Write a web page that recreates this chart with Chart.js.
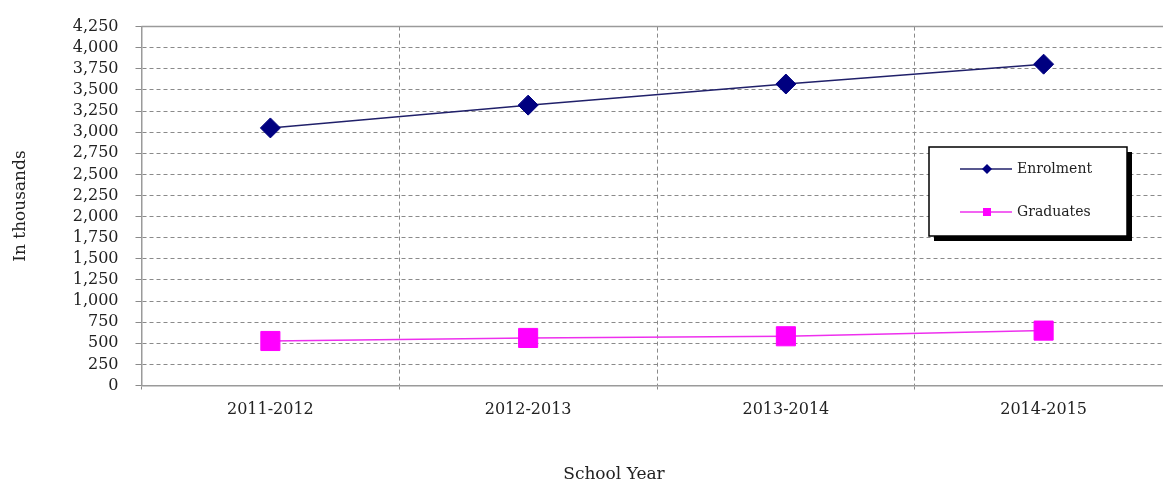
<!DOCTYPE html>
<html>
<head>
<meta charset="utf-8">
<script src="https://cdn.jsdelivr.net/npm/chart.js@4"></script>
<style>
  html, body { margin: 0; padding: 0; background: #fff; overflow: hidden; }
  canvas { display: block; }
</style>
</head>
<body>
<canvas id="mychart" width="1163" height="482"></canvas>
<script>
const categories = ["2011-2012", "2012-2013", "2013-2014", "2014-2015"];
const enrolment = [3050, 3320, 3570, 3805];
const graduates = [527, 563, 583, 650];
const yMin = 0;
const yMax = 4250;
const yStep = 250;

const serif = "'DejaVu Serif', serif";

// plot area runs a bit past the right edge of the picture in the original
const widenPlot = {
  id: "widenPlot",
  afterLayout(chart) {
    const right = 1172.5;
    const x = chart.scales.x;
    x.right = right;
    x.width = right - x.left;
    x.configure();
    chart.chartArea.right = right;
    chart.chartArea.width = right - chart.chartArea.left;
  }
};

// legend box + top border + x title, drawn after the chart
const extras = {
  id: "extras",
  afterDraw(chart) {
    const ctx = chart.ctx;
    const area = chart.chartArea;
    ctx.save();
    // solid top border of the plot
    ctx.strokeStyle = "#9a9a9a";
    ctx.lineWidth = 1.5;
    ctx.beginPath();
    ctx.moveTo(area.left, area.top);
    ctx.lineTo(area.right, area.top);
    ctx.stroke();

    // x title
    ctx.fillStyle = "#222";
    ctx.font = "17px " + serif;
    ctx.textAlign = "center";
    ctx.textBaseline = "middle";
    ctx.fillText("School Year", 614, 475);

    // legend
    const bx = 929, by = 147, bw = 198, bh = 89;
    ctx.fillStyle = "#000";
    ctx.fillRect(bx + 5, by + 5, bw, bh);
    ctx.fillStyle = "#fff";
    ctx.fillRect(bx, by, bw, bh);
    ctx.strokeStyle = "#000";
    ctx.lineWidth = 1.5;
    ctx.strokeRect(bx, by, bw, bh);

    const rows = [169, 212];
    chart.data.datasets.forEach((ds, i) => {
      const y = rows[i];
      ctx.strokeStyle = ds.borderColor;
      ctx.lineWidth = 1.5;
      ctx.beginPath();
      ctx.moveTo(960, y);
      ctx.lineTo(1012, y);
      ctx.stroke();
      ctx.fillStyle = ds.pointBackgroundColor;
      ctx.beginPath();
      if (ds.pointStyle === "rectRot") {
        ctx.moveTo(987, y - 5);
        ctx.lineTo(992, y);
        ctx.lineTo(987, y + 5);
        ctx.lineTo(982, y);
        ctx.closePath();
        ctx.fill();
      } else {
        ctx.fillRect(983, y - 4, 8, 8);
      }
      ctx.fillStyle = "#222";
      ctx.font = "14px " + serif;
      ctx.textAlign = "left";
      ctx.textBaseline = "middle";
      ctx.fillText(ds.label, 1017, y);
    });
    ctx.restore();
  }
};

new Chart(document.getElementById("mychart"), {
  type: "line",
  data: {
    labels: categories,
    datasets: [
      {
        label: "Enrolment",
        data: enrolment,
        borderColor: "#20206a",
        borderWidth: 1.5,
        pointStyle: "rectRot",
        pointRadius: 10,
        pointHoverRadius: 10,
        pointBackgroundColor: "#000080",
        pointBorderColor: "#000080",
        pointBorderWidth: 1,
        tension: 0
      },
      {
        label: "Graduates",
        data: graduates,
        borderColor: "#ee30ee",
        borderWidth: 1.5,
        pointStyle: "rect",
        pointRadius: 13.5,
        pointHoverRadius: 13.5,
        pointBackgroundColor: "#ff00ff",
        pointBorderColor: "#ff00ff",
        pointBorderWidth: 1,
        tension: 0
      }
    ]
  },
  options: {
    responsive: false,
    animation: false,
    layout: { padding: { top: 23, right: 2.5, bottom: 0, left: 0 } },
    plugins: {
      legend: { display: false },
      tooltip: { enabled: false }
    },
    scales: {
      x: {
        offset: true,
        grid: {
          offset: true,
          color: (c) => (c.index >= categories.length ? "rgba(0,0,0,0)" : "#8a8a8a"),
          lineWidth: 1,
          tickLength: 4
        },
        border: { color: "#9a9a9a", width: 1.5, dash: [4, 3] },
        ticks: {
          color: "#222",
          font: { family: serif, size: 16 },
          padding: 11,
          maxRotation: 0
        },
        afterFit(scale) { scale.height = 96.5; }
      },
      y: {
        min: yMin,
        max: yMax,
        grid: {
          color: "#8a8a8a",
          lineWidth: 1,
          tickLength: 6
        },
        border: { color: "#9a9a9a", width: 1.5, dash: [4, 3] },
        ticks: {
          stepSize: yStep,
          autoSkip: false,
          color: "#222",
          font: { family: serif, size: 16 },
          padding: 17
        },
        title: {
          display: true,
          text: "In thousands",
          color: "#222",
          font: { family: serif, size: 17 },
          padding: { top: 10, bottom: 0 }
        },
        afterFit(scale) { scale.width = 141.5; }
      }
    }
  },
  plugins: [widenPlot, extras]
});
</script>
</body>
</html>
